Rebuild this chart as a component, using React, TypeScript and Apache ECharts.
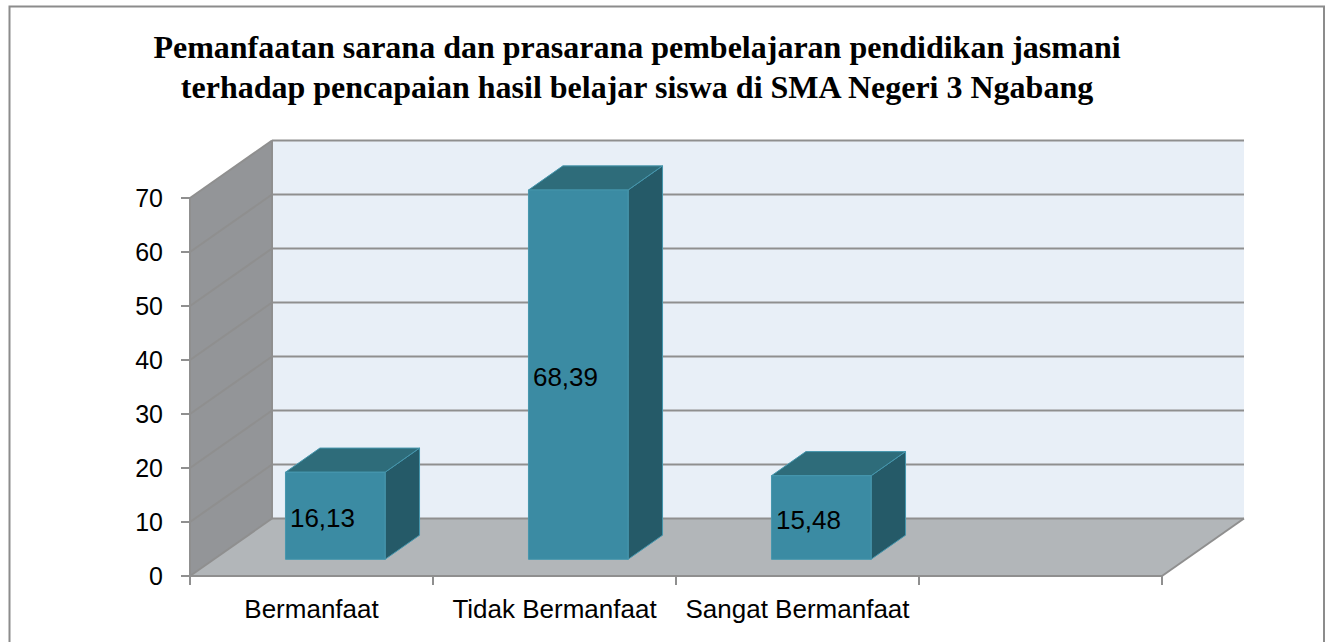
import React, { useEffect, useRef } from 'react';
import * as echarts from 'echarts';

const titleLines = [
  'Pemanfaatan sarana dan prasarana pembelajaran pendidikan jasmani',
  'terhadap pencapaian hasil belajar siswa di SMA Negeri 3 Ngabang',
];
const categories = ['Bermanfaat', 'Tidak Bermanfaat', 'Sangat Bermanfaat', ''];
const values = [16.13, 68.39, 15.48];
const yTicks = [0, 10, 20, 30, 40, 50, 60, 70];

const DX = 82;
const DY = -57.5;
const BAR_FRONT = 0.29;
const BAR_BACK = 0.71;
const BAR_WIDTH_RATIO = 0.41;
const GRID_COLOR = '#8f8f8f';
const SANS = '"Liberation Sans", Arial, sans-serif';
const SERIF = '"Liberation Serif", "Times New Roman", serif';

const fmt = (v: number) => v.toFixed(2).replace('.', ',');

export default function App() {
  const ref = useRef<HTMLDivElement>(null);
  useEffect(() => {
    const chart = echarts.init(ref.current!, null, { renderer: 'svg' });
    const lineStyle = { color: GRID_COLOR, width: 2 };
    const option: any = {
      animation: false,
      backgroundColor: '#ffffff',
      title: {
        text: titleLines.join('\n'),
        left: 632,
        top: 22,
        textAlign: 'center',
        textStyle: {
          fontFamily: SERIF,
          fontWeight: 'bold',
          fontSize: 32,
          lineHeight: 40,
          color: '#000',
        },
      },
      graphic: [
        {
          type: 'rect',
          shape: { x: 9.5, y: 6.5, width: 1314.5, height: 700 },
          style: { fill: 'none', stroke: '#8c8c8c', lineWidth: 2 },
          silent: true,
          z: 10,
        },
      ],
      grid: { left: 190, top: 198, width: 972, height: 378 },
      xAxis: {
        type: 'category',
        data: categories,
        z: 5,
        axisLine: { show: true, lineStyle },
        axisTick: { show: true, length: 9, lineStyle },
        axisLabel: { fontSize: 26, color: '#000', fontFamily: SANS, margin: 20, interval: 0 },
        splitLine: { show: false },
      },
      yAxis: {
        type: 'value',
        min: 0,
        max: 70,
        interval: 10,
        z: 5,
        axisLine: { show: true, lineStyle },
        axisTick: { show: true, length: 9, lineStyle },
        axisLabel: { fontSize: 25, color: '#000', fontFamily: SANS, margin: 27 },
        splitLine: { show: false },
      },
      series: [
        {
          type: 'custom',
          name: 'walls',
          z: 1,
          silent: true,
          clip: false,
          data: [[0, 0]],
          renderItem: (params: any, api: any) => {
            const cs = params.coordSys;
            const x0 = cs.x;
            const x1 = cs.x + cs.width;
            const yb = api.coord([0, yTicks[0]])[1];
            const yt = api.coord([0, yTicks[yTicks.length - 1]])[1];
            const children: any[] = [
              {
                type: 'polygon',
                shape: { points: [[x0 + DX, yt + DY], [x1 + DX, yt + DY], [x1 + DX, yb + DY], [x0 + DX, yb + DY]] },
                style: { fill: '#e8eff7' },
              },
              {
                type: 'polygon',
                shape: { points: [[x0, yt], [x0 + DX, yt + DY], [x0 + DX, yb + DY], [x0, yb]] },
                style: { fill: '#939598' },
              },
              {
                type: 'polygon',
                shape: { points: [[x0, yb], [x0 + DX, yb + DY], [x1 + DX, yb + DY], [x1, yb]] },
                style: { fill: '#b2b6b9' },
              },
            ];
            yTicks.forEach((v) => {
              const y = api.coord([0, v])[1];
              children.push({
                type: 'line',
                shape: { x1: x0, y1: y, x2: x0 + DX, y2: y + DY },
                style: { stroke: GRID_COLOR, lineWidth: 2 },
              });
              children.push({
                type: 'line',
                shape: { x1: x0 + DX, y1: y + DY, x2: x1 + DX, y2: y + DY },
                style: { stroke: GRID_COLOR, lineWidth: 2 },
              });
            });
            children.push({
              type: 'line',
              shape: { x1: x0 + DX, y1: yt + DY, x2: x0 + DX, y2: yb + DY },
              style: { stroke: GRID_COLOR, lineWidth: 2 },
            });
            children.push({
              type: 'line',
              shape: { x1: x1, y1: yb, x2: x1 + DX, y2: yb + DY },
              style: { stroke: GRID_COLOR, lineWidth: 2 },
            });
            return { type: 'group', children };
          },
        },
        {
          type: 'custom',
          name: 'bars',
          z: 2,
          clip: false,
          data: values.map((v, i) => [i, v]),
          renderItem: (params: any, api: any) => {
            const idx = api.value(0);
            const v = api.value(1);
            const base = api.coord([idx, 0]);
            const top = api.coord([idx, v]);
            const band = api.size([1, 0])[0];
            const w = band * BAR_WIDTH_RATIO;
            const xl = base[0] - w / 2 + DX * BAR_FRONT;
            const xr = xl + w;
            const yb = base[1] + DY * BAR_FRONT;
            const yt = top[1] + DY * BAR_FRONT;
            const ddx = DX * (BAR_BACK - BAR_FRONT);
            const ddy = DY * (BAR_BACK - BAR_FRONT);
            const edge = '#4596ad';
            return {
              type: 'group',
              children: [
                {
                  type: 'polygon',
                  shape: { points: [[xr, yt], [xr + ddx, yt + ddy], [xr + ddx, yb + ddy], [xr, yb]] },
                  style: { fill: '#255a68', stroke: edge, lineWidth: 1 },
                },
                {
                  type: 'polygon',
                  shape: { points: [[xl, yt], [xr, yt], [xr + ddx, yt + ddy], [xl + ddx, yt + ddy]] },
                  style: { fill: '#2e6c7a', stroke: edge, lineWidth: 1 },
                },
                {
                  type: 'rect',
                  shape: { x: xl, y: yt, width: w, height: yb - yt },
                  style: { fill: '#3b8ba3', stroke: edge, lineWidth: 1 },
                },
                {
                  type: 'text',
                  style: {
                    text: fmt(v),
                    x: xl + 4.5,
                    y: (yt + yb) / 2 + 2,
                    align: 'left',
                    verticalAlign: 'middle',
                    fontSize: 26,
                    fontFamily: SANS,
                    fill: '#000',
                  },
                },
              ],
            };
          },
        },
      ],
    };
    chart.setOption(option);
    return () => chart.dispose();
  }, []);
  return (
    <div
      ref={ref}
      style={{ position: 'absolute', left: 0, top: 0, width: 1331, height: 642 }}
    />
  );
}
